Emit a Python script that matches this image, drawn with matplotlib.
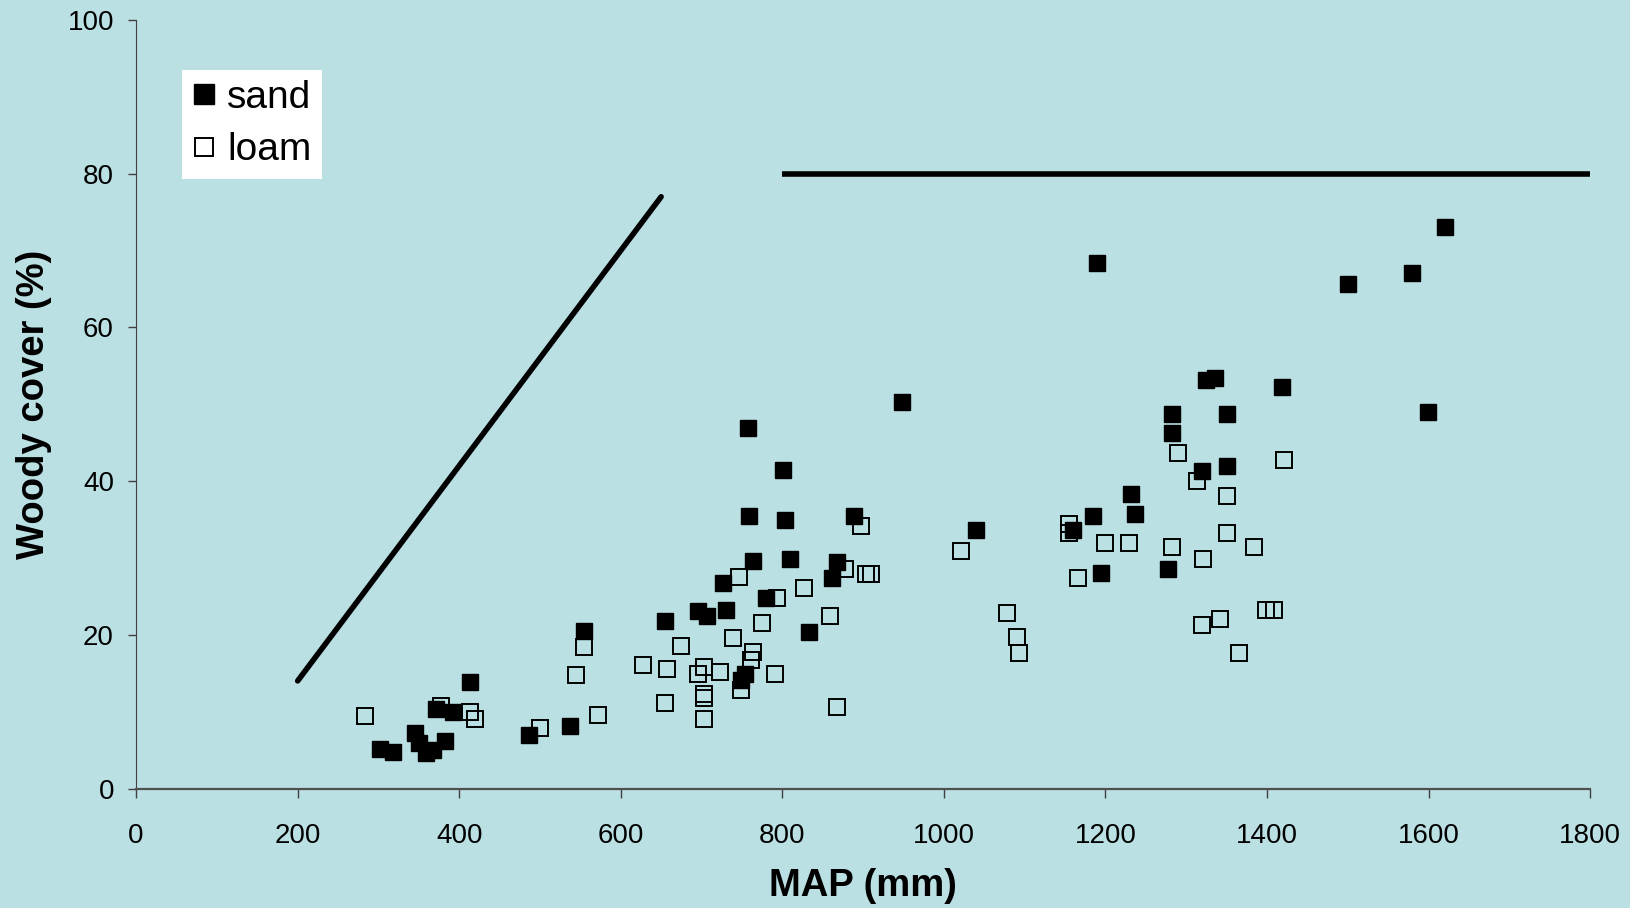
import matplotlib.pyplot as plt

plt.rcParams["font.family"] = ["Liberation Sans", "DejaVu Sans"]

# woody cover vs mean annual precipitation
sand_map = [302, 318, 345, 350, 359, 367, 371, 382, 392, 413, 486, 537, 554,
            655, 696, 707, 730, 727, 757, 759, 749, 754, 764, 780, 801, 803,
            809, 833, 861, 868, 889, 948, 1040, 1160, 1185, 1190, 1195, 1232,
            1237, 1277, 1282, 1282, 1320, 1325, 1336, 1350, 1351, 1419, 1500,
            1580, 1599, 1620]
sand_cover = [5.1, 4.7, 7.2, 5.9, 4.6, 5.0, 10.4, 6.2, 10.0, 13.9, 7.0, 8.1, 20.5,
              21.8, 23.1, 22.4, 23.2, 26.8, 46.9, 35.4, 14.1, 14.9, 29.6, 24.8, 41.5, 35.0,
              29.9, 20.4, 27.4, 29.5, 35.4, 50.3, 33.6, 33.7, 35.4, 68.4, 28.0, 38.3,
              35.7, 28.5, 48.7, 46.2, 41.3, 53.2, 53.4, 42.0, 48.7, 52.2, 65.6,
              67.1, 49.0, 73.0]

loam_map = [283, 377, 413, 419, 500, 545, 554, 572, 628, 655, 657, 674, 696,
            703, 703, 703, 703, 723, 739, 747, 749, 761, 764, 775, 791, 793,
            827, 859, 868, 878, 897, 903, 910, 1021, 1078, 1090, 1093, 1155,
            1155, 1166, 1200, 1229, 1283, 1290, 1313, 1321, 1320, 1342, 1350,
            1350, 1366, 1384, 1399, 1409, 1421]
loam_cover = [9.4, 10.7, 10.0, 9.0, 7.9, 14.8, 18.4, 9.5, 16.1, 11.1, 15.5, 18.6, 14.9,
              15.8, 12.3, 11.8, 9.0, 15.2, 19.6, 27.5, 12.8, 16.7, 17.8, 21.6, 14.9, 24.8,
              26.1, 22.4, 10.6, 28.6, 34.1, 27.9, 27.9, 30.9, 22.9, 19.7, 17.6, 34.4,
              33.3, 27.4, 31.9, 32.0, 31.4, 43.7, 40.0, 29.8, 21.3, 22.1, 38.0,
              33.3, 17.6, 31.4, 23.2, 23.2, 42.8]

# upper bound lines
rise_x = [200, 650]
rise_y = [14, 77]
cap_x = [800, 1800]
cap_y = [80, 80]

x_ticks = [0, 200, 400, 600, 800, 1000, 1200, 1400, 1600, 1800]
y_ticks = [0, 20, 40, 60, 80, 100]

bg = "#bae0e3"
fig = plt.figure(figsize=(16.3, 9.08), dpi=100, facecolor=bg)
ax = fig.add_axes([0.0835, 0.1316, 0.892, 0.8464], facecolor=bg)

ax.plot(rise_x, rise_y, color="black", lw=4, solid_capstyle="round")
ax.plot(cap_x, cap_y, color="black", lw=4, solid_capstyle="butt")

ax.plot(loam_map, loam_cover, ls="none", marker="s", ms=11.5, mfc="none",
        mec="black", mew=1.4, label="loam")
ax.plot(sand_map, sand_cover, ls="none", marker="s", ms=12, mfc="black",
        mec="black", mew=1, label="sand")

ax.set_xlim(0, 1800)
ax.set_ylim(0, 100)
ax.set_xticks(x_ticks)
ax.set_yticks(y_ticks)
ax.tick_params(axis="x", direction="out", length=6.5, width=1, colors="#404040",
               labelcolor="black", labelsize=20, pad=18)
ax.tick_params(axis="y", direction="out", length=6, width=1, colors="#404040",
               labelcolor="black", labelsize=20, pad=10)
for s in ["top", "right"]:
    ax.spines[s].set_visible(False)
ax.spines["left"].set_color("#404040")
ax.spines["bottom"].set_color("#505050")
ax.spines["bottom"].set_linewidth(1.6)

ax.set_xlabel("MAP (mm)", fontsize=27.5, fontweight="bold", labelpad=14)
ax.set_ylabel("Woody cover (%)", fontsize=27.5, fontweight="bold", labelpad=11)

handles, labels = ax.get_legend_handles_labels()
leg = ax.legend(handles[::-1], labels[::-1], loc="upper left",
                bbox_to_anchor=(182 / 1630, 1 - 70 / 908), bbox_transform=fig.transFigure,
                borderaxespad=0, fontsize=28, handlelength=0.6, handletextpad=0.3,
                borderpad=0.26, labelspacing=0.42, fancybox=False, framealpha=1,
                facecolor="white", edgecolor="white", markerscale=1.15)
leg.get_frame().set_linewidth(0)

plt.savefig("out.png", dpi=100, facecolor=bg)
plt.close()
